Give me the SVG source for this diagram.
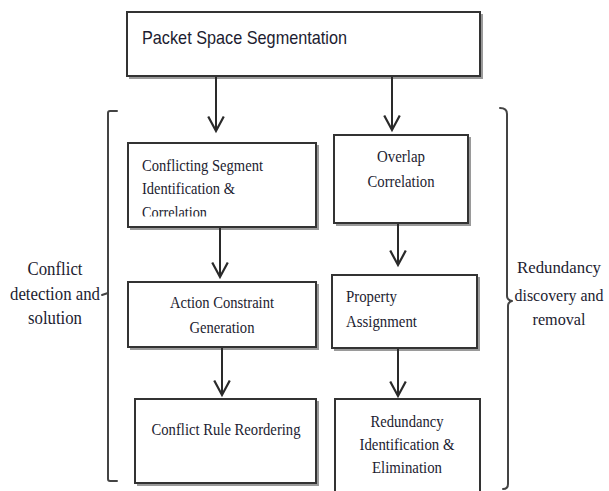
<svg xmlns="http://www.w3.org/2000/svg" width="609" height="491" viewBox="0 0 609 491">
  <style>
    .box { fill: #ffffff; stroke: #333333; stroke-width: 2; }
    .shadow { fill: none; stroke: #9a9a9a; stroke-width: 2; }
    .serif { font-family: "Liberation Serif", "Times New Roman", serif; font-size: 17px; fill: #1c1c30; }
    .side { font-family: "Liberation Serif", "Times New Roman", serif; font-size: 19px; fill: #1c1c30; }
    .side-r { font-family: "Liberation Serif", "Times New Roman", serif; font-size: 16.5px; fill: #1c1c30; }
    .sans { font-family: "Liberation Sans", Arial, sans-serif; font-size: 19px; fill: #1c1c30; }
    .link { fill: none; stroke: #2a2a2a; stroke-width: 2; marker-end: url(#arrow); }
    .brace { fill: none; stroke: #444444; stroke-width: 2; stroke-linejoin: round; stroke-linecap: round; }
  </style>
  <defs>
    <marker id="arrow" markerUnits="userSpaceOnUse" markerWidth="20" markerHeight="20" viewBox="-15 -9 17 18" refX="0" refY="0" orient="auto">
      <path d="M-13,-7 L0,0 L-13,7" fill="none" stroke="#2a2a2a" stroke-width="2"/>
    </marker>
    <clipPath id="clipConflicting">
      <rect x="128" y="144" width="188" height="72.5"/>
    </clipPath>
  </defs>

  <rect width="609" height="491" fill="#ffffff"/>

  <!-- Top stage -->
  <g id="packet-space-segmentation">
    <path class="shadow" d="M129,78 H482 V14"/>
    <rect class="box" x="127" y="12" width="353" height="64"/>
    <text class="sans" x="142" y="44" textLength="205" lengthAdjust="spacingAndGlyphs">Packet Space Segmentation</text>
  </g>

  <!-- Left column -->
  <g id="conflicting-segment">
    <path class="shadow" d="M130,229 H318 V145"/>
    <rect class="box" x="128" y="143" width="188" height="84"/>
    <g clip-path="url(#clipConflicting)">
      <text class="serif" x="142" y="171" textLength="121" lengthAdjust="spacingAndGlyphs">Conflicting Segment</text>
      <text class="serif" x="142" y="194" textLength="93" lengthAdjust="spacingAndGlyphs">Identification &amp;</text>
      <text class="serif" x="142" y="218" textLength="65" lengthAdjust="spacingAndGlyphs">Correlation</text>
    </g>
  </g>

  <g id="action-constraint">
    <path class="shadow" d="M130,349 H318 V284"/>
    <rect class="box" x="128" y="282" width="188" height="65"/>
    <text class="serif" x="222" y="308" text-anchor="middle" textLength="104" lengthAdjust="spacingAndGlyphs">Action Constraint</text>
    <text class="serif" x="222" y="333" text-anchor="middle" textLength="65" lengthAdjust="spacingAndGlyphs">Generation</text>
  </g>

  <g id="conflict-rule-reordering">
    <path class="shadow" d="M137,485 H318 V401"/>
    <rect class="box" x="135" y="399" width="181" height="84"/>
    <text class="serif" x="226" y="435" text-anchor="middle" textLength="149" lengthAdjust="spacingAndGlyphs">Conflict Rule Reordering</text>
  </g>

  <!-- Right column -->
  <g id="overlap-correlation">
    <path class="shadow" d="M336,225 H470 V137"/>
    <rect class="box" x="334" y="135" width="134" height="88"/>
    <text class="serif" x="401" y="162" text-anchor="middle" textLength="48" lengthAdjust="spacingAndGlyphs">Overlap</text>
    <text class="serif" x="401" y="187" text-anchor="middle" textLength="67" lengthAdjust="spacingAndGlyphs">Correlation</text>
  </g>

  <g id="property-assignment">
    <path class="shadow" d="M334,350 H479 V277"/>
    <rect class="box" x="332" y="275" width="145" height="73"/>
    <text class="serif" x="346" y="302" textLength="51" lengthAdjust="spacingAndGlyphs">Property</text>
    <text class="serif" x="346" y="327" textLength="71" lengthAdjust="spacingAndGlyphs">Assignment</text>
  </g>

  <g id="redundancy-identification">
    <rect class="box" x="335" y="399" width="145" height="100"/>
    <text class="serif" x="407" y="427" text-anchor="middle" textLength="73" lengthAdjust="spacingAndGlyphs">Redundancy</text>
    <text class="serif" x="407" y="450" text-anchor="middle" textLength="95" lengthAdjust="spacingAndGlyphs">Identification &amp;</text>
    <text class="serif" x="407" y="473" text-anchor="middle" textLength="70" lengthAdjust="spacingAndGlyphs">Elimination</text>
  </g>

  <!-- Group braces and their labels -->
  <g id="conflict-group">
    <path class="brace" d="M117,111 H110 Q108,111 108,113 V479 Q108,481 110,481 H117"/>
    <path class="brace" d="M102,295 L108,293"/>
    <text class="side" x="55" y="275" text-anchor="middle" textLength="55" lengthAdjust="spacingAndGlyphs">Conflict</text>
    <text class="side" x="55" y="300" text-anchor="middle" textLength="90" lengthAdjust="spacingAndGlyphs">detection and</text>
    <text class="side" x="55" y="324" text-anchor="middle" textLength="54" lengthAdjust="spacingAndGlyphs">solution</text>
  </g>

  <g id="redundancy-group">
    <path class="brace" d="M500,108 Q507,108 507,114 V296 Q507,300 512,301 Q508,302 508,306 V484 Q508,489 503,489"/>
    <text class="side-r" x="559" y="273" text-anchor="middle" textLength="84" lengthAdjust="spacingAndGlyphs">Redundancy</text>
    <text class="side-r" x="559" y="301" text-anchor="middle" textLength="89" lengthAdjust="spacingAndGlyphs">discovery and</text>
    <text class="side-r" x="559" y="325" text-anchor="middle" textLength="53" lengthAdjust="spacingAndGlyphs">removal</text>
  </g>

  <!-- Connectors -->
  <g id="connectors">
    <path class="link" d="M216,77 V131"/>
    <path class="link" d="M392,77 V130"/>
    <path class="link" d="M220,228 V277"/>
    <path class="link" d="M222,348 V395"/>
    <path class="link" d="M398,224 V265"/>
    <path class="link" d="M398,349 V396"/>
  </g>
</svg>
